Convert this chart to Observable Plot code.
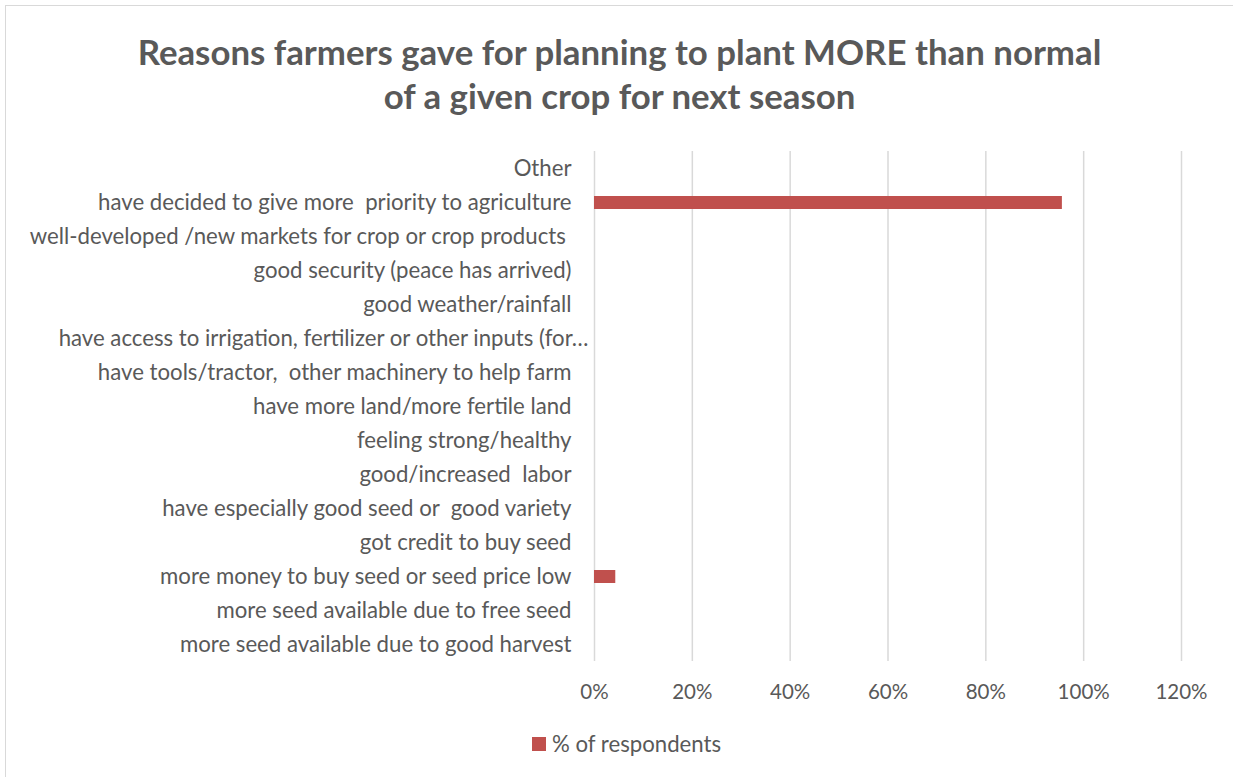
<!DOCTYPE html>
<html><head><meta charset="utf-8">
<script src="https://cdn.jsdelivr.net/npm/d3@7"></script>
<script src="https://cdn.jsdelivr.net/npm/@observablehq/plot@0.6"></script>
<style>
body{margin:0;background:#fff;font-family:Lato,sans-serif;}
#frame{position:absolute;left:5px;top:5px;width:1240px;height:790px;border:1.5px solid #d9d9d9;box-sizing:border-box;}
#title{position:absolute;left:0;width:1239px;top:30px;text-align:center;font-weight:bold;font-size:34.8px;line-height:44px;color:#595959;}
#chart{position:absolute;left:0;top:0;}
#legend{position:absolute;left:532px;top:732px;font-size:22.2px;line-height:24px;color:#595959;display:flex;align-items:center;}
svg text{white-space:pre;}
</style></head><body>
<div id="frame"></div>
<div id="chart"></div>
<div id="title">Reasons farmers gave for planning to plant MORE than normal<br>of a given crop for next season</div>
<div id="legend"><span style="display:inline-block;width:14px;height:14px;background:#c0504d;margin-right:6px"></span><span id="legtext"></span></div>
<script>
const categories = [
  "Other",
  "have decided to give more  priority to agriculture",
  "well-developed /new markets for crop or crop products ",
  "good security (peace has arrived)",
  "good weather/rainfall",
  "have access to irrigation, fertilizer or other inputs (for…",
  "have tools/tractor,  other machinery to help farm",
  "have more land/more fertile land",
  "feeling strong/healthy",
  "good/increased  labor",
  "have especially good seed or  good variety",
  "got credit to buy seed",
  "more money to buy seed or seed price low",
  "more seed available due to free seed",
  "more seed available due to good harvest"
];
const values = [0, 0.9565, 0, 0, 0, 0, 0, 0, 0, 0, 0, 0, 0.0435, 0, 0];
const xTicks = [0, 0.2, 0.4, 0.6, 0.8, 1.0, 1.2];
const seriesName = "% of respondents";
const truncatedLabel = categories[5];

document.getElementById("legtext").textContent = seriesName;
const data = categories.map((c, i) => ({category: c, value: values[i]}));

const chart = Plot.plot({
  width: 1233, height: 777,
  marginLeft: 594, marginRight: 52, marginTop: 151, marginBottom: 116,
  style: {fontFamily: "Lato, sans-serif", fontSize: "22.2px", color: "#595959", background: "transparent"},
  x: {domain: [0, 1.2]},
  y: {domain: categories, paddingInner: 0.62, paddingOuter: 0.31},
  marks: [
    Plot.gridX(xTicks, {stroke: "#d9d9d9", strokeOpacity: 1, strokeWidth: 1.5}),
    Plot.barX(data, {x: "value", y: "category", fill: "#c0504d"}),
    Plot.axisX(xTicks, {tickSize: 0, tickPadding: 23, fontSize: 20.5, tickFormat: d => Math.round(d * 100) + "%", label: null, fill: "#595959"}),
    Plot.axisY(categories.filter(c => c !== truncatedLabel), {tickSize: 0, tickPadding: 23, label: null, fill: "#595959"}),
    Plot.axisY([truncatedLabel], {tickSize: 0, tickPadding: 6, label: null, fill: "#595959"})
  ]
});
document.getElementById("chart").appendChild(chart);
</script>
</body></html>
